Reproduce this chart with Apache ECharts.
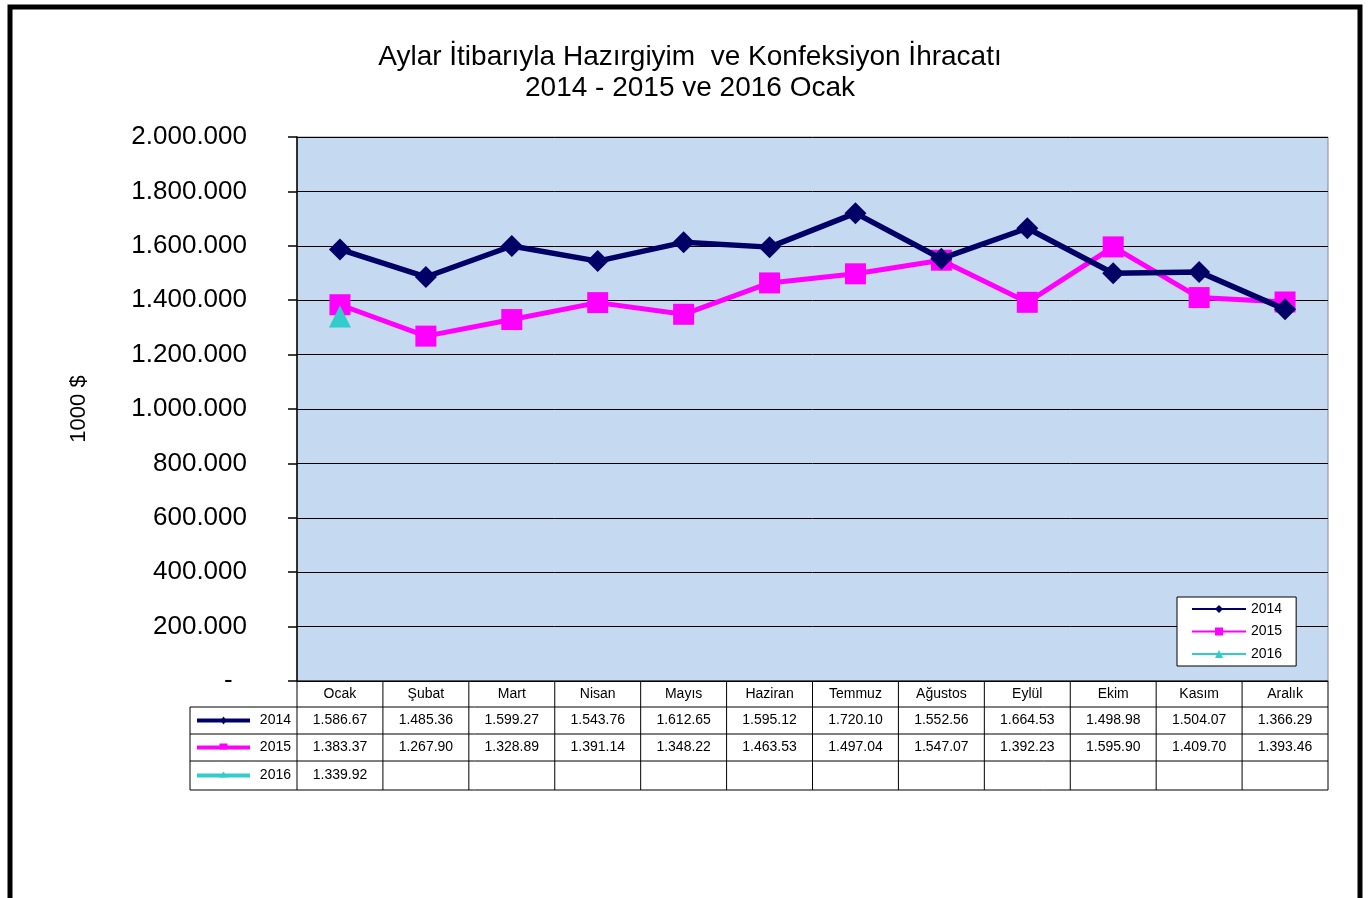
<!DOCTYPE html>
<html><head><meta charset="utf-8">
<script src="https://cdn.jsdelivr.net/npm/echarts@6/dist/echarts.min.js"></script>
<style>html,body{margin:0;padding:0;background:#fff}#c{width:1371px;height:898px}</style>
</head><body><div id="c"></div>
<script>
const categories = ['Ocak','Şubat','Mart','Nisan','Mayıs','Haziran','Temmuz','Ağustos','Eylül','Ekim','Kasım','Aralık'];
const s2014 = [1586670,1485360,1599270,1543760,1612650,1595120,1720100,1552560,1664530,1498980,1504070,1366290];
const s2015 = [1383370,1267900,1328890,1391140,1348220,1463530,1497040,1547070,1392230,1595900,1409700,1393460];
const s2016 = [1339920,null,null,null,null,null,null,null,null,null,null,null];
const seriesNames = ['2014','2015','2016'];
const yTicks = [0,200000,400000,600000,800000,1000000,1200000,1400000,1600000,1800000,2000000];

const FONT = "'Liberation Sans', Arial, sans-serif";
const colors = ['#000066','#FF00FF','#33CCCC'];
const symbols = ['diamond','rect','triangle'];
const symSizes = [22,21,22];
const lineWidths = [5.5,5,4];

function fmtAxis(v){
  if (v === 0) return '-  ';
  return String(Math.round(v)).replace(/\B(?=(\d{3})+(?!\d))/g,'.');
}
function fmtCell(v){
  if (v == null) return '';
  const s = String(Math.round(v)).replace(/\B(?=(\d{3})+(?!\d))/g,'.');
  return s.slice(0,-1);
}

const chart = echarts.init(document.getElementById('c'));
const allSeries = [s2014,s2015,s2016];
chart.setOption({
  animation:false,
  backgroundColor:'#fff',
  title:{
    text:'Aylar İtibarıyla Hazırgiyim  ve Konfeksiyon İhracatı\n2014 - 2015 ve 2016 Ocak',
    left:685, textAlign:'center', top:37,
    textStyle:{fontFamily:FONT,fontSize:28,fontWeight:'normal',color:'#000',lineHeight:31}
  },
  grid:{left:297,top:137,width:1031,height:544,show:true,backgroundColor:'#C5D9F1',borderColor:'#8a8a8a',borderWidth:1},
  legend:{
    left:1177, top:597, orient:'vertical', backgroundColor:'#fff', borderColor:'#000', borderWidth:1,
    padding:[5,14,5,14], itemWidth:54, itemHeight:10, itemGap:8.5,
    textStyle:{fontFamily:FONT,fontSize:14,color:'#000'},
    data:seriesNames
  },
  xAxis:{
    type:'category', data:categories, boundaryGap:true,
    axisLine:{show:false}, axisTick:{show:false}, axisLabel:{show:false}, splitLine:{show:false}
  },
  yAxis:{
    type:'value', min:0, max:2000000, interval:200000,
    name:'1000 $', nameLocation:'middle', nameGap:207, nameRotate:90,
    nameTextStyle:{fontFamily:FONT,fontSize:22,color:'#000'},
    axisLine:{show:true,lineStyle:{color:'#000',width:1.5}},
    axisTick:{show:true,length:9,lineStyle:{color:'#000',width:1.5}},
    axisLabel:{fontFamily:FONT,fontSize:26,color:'#000',margin:50,formatter:fmtAxis},
    splitLine:{show:true,lineStyle:{color:'#000',width:1}}
  },
  series: allSeries.map((d,i)=>({
    name:seriesNames[i], type:'line', data:d, symbol:symbols[i], symbolSize:symSizes[i],
    lineStyle:{color:colors[i],width:lineWidths[i]}, itemStyle:{color:colors[i]}, z:3+(i===0?1:0)
  }))
});

// data table beneath the plot
function buildTable(){
  const x0 = chart.convertToPixel({xAxisIndex:0},0);
  const x1 = chart.convertToPixel({xAxisIndex:0},1);
  const bw = x1 - x0;
  const left = x0 - bw/2;
  const right = left + bw*categories.length;
  const yTop = chart.convertToPixel({yAxisIndex:0},0);
  const rowH = [26,27,27,29];
  const rowY = [yTop];
  rowH.forEach(h=>rowY.push(rowY[rowY.length-1]+h));
  const keyLeft = 190;
  const els = [];
  const ls = {stroke:'#000',lineWidth:1};
  els.push({type:'line',shape:{x1:left,y1:rowY[0],x2:right,y2:rowY[0]},style:ls});
  for(let r=1;r<rowY.length;r++){
    els.push({type:'line',shape:{x1:keyLeft,y1:rowY[r],x2:right,y2:rowY[r]},style:ls});
  }
  els.push({type:'line',shape:{x1:keyLeft,y1:rowY[1],x2:keyLeft,y2:rowY[4]},style:ls});
  for(let c=0;c<=categories.length;c++){
    const x = left + c*bw;
    els.push({type:'line',shape:{x1:x,y1:rowY[0],x2:x,y2:rowY[4]},style:ls});
  }
  categories.forEach((name,c)=>{
    els.push({type:'text',x:left+(c+0.5)*bw,y:(rowY[0]+rowY[1])/2,
      style:{text:name,font:'14px '+FONT,fill:'#000',align:'center',verticalAlign:'middle'}});
  });
  allSeries.forEach((d,r)=>{
    const cy = (rowY[r+1]+rowY[r+2])/2;
    const kx1 = keyLeft+7, kx2 = keyLeft+60, km = (kx1+kx2)/2;
    els.push({type:'line',shape:{x1:kx1,y1:cy,x2:kx2,y2:cy},style:{stroke:colors[r],lineWidth:4}});
    if (r===0) els.push({type:'polygon',shape:{points:[[km,cy-4],[km+3,cy],[km,cy+4],[km-3,cy]]},style:{fill:colors[r]}});
    if (r===1) els.push({type:'rect',shape:{x:km-4,y:cy-4,width:8,height:6},style:{fill:colors[r]}});
    if (r===2) els.push({type:'polygon',shape:{points:[[km,cy-4],[km+4,cy+2],[km-4,cy+2]]},style:{fill:colors[r]}});
    els.push({type:'text',x:left-6,y:cy,style:{text:seriesNames[r],font:'14px '+FONT,fill:'#000',align:'right',verticalAlign:'middle'}});
    d.forEach((v,c)=>{
      els.push({type:'text',x:left+(c+0.5)*bw,y:cy,
        style:{text:fmtCell(v),font:'14px '+FONT,fill:'#000',align:'center',verticalAlign:'middle'}});
    });
  });
  els.push({type:'rect',shape:{x:10,y:7,width:1350,height:940},style:{fill:'none',stroke:'#000',lineWidth:5},z:10});
  chart.setOption({graphic:{elements:els}});
}
buildTable();
</script>
</body></html>
